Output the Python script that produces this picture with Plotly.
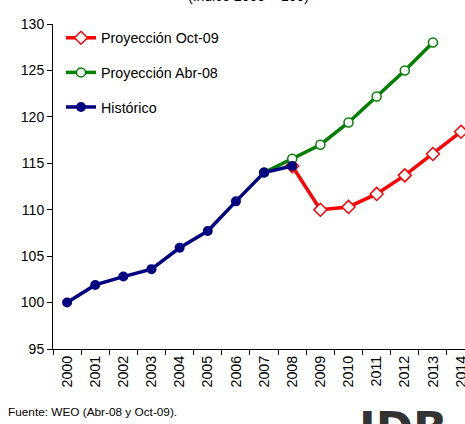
import plotly.graph_objects as go

years = [str(y) for y in range(2000, 2015)]

hist_years = years[0:9]
hist_vals = [100.0, 101.9, 102.8, 103.6, 105.9, 107.7, 110.9, 114.0, 114.7]

abr08_years = years[7:14]
abr08_vals = [114.0, 115.5, 117.0, 119.4, 122.2, 125.0, 128.0]

oct09_years = years[8:15]
oct09_vals = [114.7, 110.0, 110.3, 111.7, 113.7, 116.0, 118.4]

y_ticks = [95, 100, 105, 110, 115, 120, 125, 130]

FONT = "Liberation Sans, Arial"

fig = go.Figure()
fig.add_trace(go.Scatter(
    x=oct09_years, y=oct09_vals, mode="lines+markers", name="Proyección Oct-09",
    legendgroup="a",
    line=dict(color="#FF0000", width=3.5),
    marker=dict(symbol="diamond", size=10, color="white", line=dict(color="#FF0000", width=1.5)),
))
fig.add_trace(go.Scatter(
    x=abr08_years, y=abr08_vals, mode="lines+markers", name="Proyección Abr-08",
    legendgroup="b",
    line=dict(color="#008000", width=3.5),
    marker=dict(symbol="circle", size=9, color="white", line=dict(color="#008000", width=1.5)),
))
fig.add_trace(go.Scatter(
    x=hist_years, y=hist_vals, mode="lines+markers", name="Histórico",
    legendgroup="c",
    line=dict(color="#000080", width=3.5),
    marker=dict(symbol="circle", size=10, color="#000080"),
))

fig.update_layout(
    width=465, height=424,
    margin=dict(l=53, r=0, t=24, b=75, autoexpand=False),
    paper_bgcolor="white", plot_bgcolor="white",
    font=dict(family=FONT, size=14, color="black"),
    showlegend=True,
    legend=dict(
        x=0.0194, y=1.0 + 2 / 325, xanchor="left", yanchor="top",
        bgcolor="rgba(0,0,0,0)", font=dict(size=14.3),
        tracegroupgap=13, itemwidth=30,
    ),
    xaxis=dict(
        type="category", categoryorder="array", categoryarray=years,
        range=[-0.5, 14.14], showline=True, linecolor="black", linewidth=1,
        ticks="outside", tickson="boundaries", ticklen=5, tickcolor="black",
        tickangle=-90, showgrid=False, zeroline=False,
        tickfont=dict(size=14.3), automargin=False,
    ),
    yaxis=dict(
        range=[95, 130], tickvals=y_ticks, showline=True, linecolor="black",
        linewidth=1, ticks="outside", ticklen=5, tickcolor="black",
        showgrid=False, zeroline=False, tickfont=dict(size=14), automargin=False,
    ),
    annotations=[
        dict(text="(índice 2000 = 100)", xref="paper", yref="paper",
             x=(248 - 53) / 412, y=1, yshift=28, xanchor="center", yanchor="middle",
             showarrow=False, font=dict(size=14)),
        dict(text="Fuente: WEO (Abr-08 y Oct-09).", xref="paper", yref="paper",
             x=(6 - 53) / 412, y=0, yshift=-63, xanchor="left", yanchor="middle",
             showarrow=False, font=dict(size=11.8)),
        dict(text="<b>IDB</b>", xref="paper", yref="paper",
             x=(402.5 - 53) / 412, y=0, yshift=-51, xanchor="center", yanchor="top",
             showarrow=False, font=dict(size=45, color="#333333",
                                        family="DejaVu Sans, Liberation Sans")),
    ],
)

fig.write_html(
    "out.html",
    config={"displayModeBar": False},
    post_script="document.body.style.margin='0';document.body.style.overflow='hidden';",
)
